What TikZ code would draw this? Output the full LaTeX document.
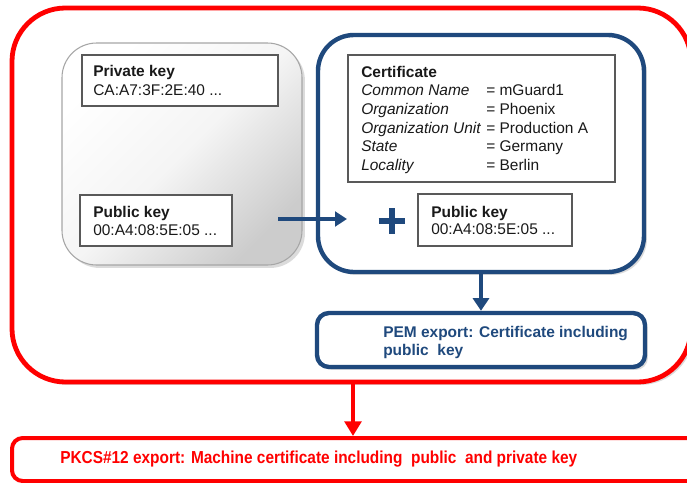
\documentclass[tikz,border=0pt]{standalone}
\usepackage{graphicx}
\usepackage{fontspec}
\setmainfont{Liberation Sans}
\usetikzlibrary{arrows.meta,shadows,fit}
\definecolor{dblue}{RGB}{31,73,125}
\definecolor{pred}{RGB}{255,0,0}
\definecolor{txt}{RGB}{25,25,25}
\begin{document}
\begin{tikzpicture}[x=0.75pt,y=-0.75pt,
  every node/.style={font=\fontsize{11.6}{13.5}\selectfont, inner sep=0, text=txt},
  thinbox/.style={draw=black!65, line width=0.8pt, fill=white, inner sep=0},
  lbl/.style={anchor=base west, inner sep=0},
  sh/.style={drop shadow={opacity=0.28, shadow xshift=2.2pt, shadow yshift=-2.2pt}},
  redbox/.style={draw=pred, line width=3.6pt, fill=white, inner sep=0, sh},
  bluebox/.style={draw=dblue, line width=3.3pt, fill=white, inner sep=0, sh},
  bluearrow/.style={draw=dblue, line width=3pt, -{Triangle[width=11pt,length=9pt]}},
  redarrow/.style={draw=pred, line width=3pt, -{Triangle[width=12.5pt,length=11pt]}},
  ]
\clip (0,0) rectangle (687,483);
\fill[white] (0,0) rectangle (687,483);

% outer red box
\node[redbox, rounded corners=40pt, fit={(12,8) (691,382)}] (outer) {};

% gray key box
\node[draw=black!35, line width=0.8pt, inner sep=0, rounded corners=26pt,
      top color=white, bottom color=black!20, middle color=black!4, shading angle=45, sh,
      fit={(62,43) (302,265)}] (keys) {};
\node[thinbox, fit={(82,55) (278,106)}] (priv) {};
\node[lbl, font=\fontsize{11.6}{13.5}\selectfont\bfseries] (privt) at (93,76.5) {Private key};
\node[lbl] (privv) at (93,95) {CA:A7:3F:2E:40 ...};
\node[thinbox, fit={(80,195) (232,246)}] (publ) {};
\node[lbl, font=\fontsize{11.6}{13.5}\selectfont\bfseries] (publt) at (93,217) {Public key};
\node[lbl] (publv) at (93,235) {00:A4:08:5E:05 ...};

% blue certificate box
\node[bluebox, rounded corners=27pt, fit={(318,35) (644,272)}] (certbox) {};
\node[thinbox, fit={(348,55) (615,182)}] (cert) {};
\node[lbl, font=\fontsize{11.6}{13.5}\selectfont\bfseries] (certt) at (361,77) {Certificate};
\node[lbl, font=\fontsize{11.6}{13.5}\selectfont\itshape] (l1) at (361,95) {Common Name};
\node[lbl, font=\fontsize{11.6}{13.5}\selectfont\itshape] (l2) at (361,114) {Organization};
\node[lbl, font=\fontsize{11.6}{13.5}\selectfont\itshape] (l3) at (361,133) {Organization Unit};
\node[lbl, font=\fontsize{11.6}{13.5}\selectfont\itshape] (l4) at (361,151) {State};
\node[lbl, font=\fontsize{11.6}{13.5}\selectfont\itshape] (l5) at (361,170) {Locality};
\node[lbl] (v1) at (486,95) {= mGuard1};
\node[lbl] (v2) at (486,114) {= Phoenix};
\node[lbl] (v3) at (486,133) {= Production A};
\node[lbl] (v4) at (486,151) {= Germany};
\node[lbl] (v5) at (486,170) {= Berlin};

\node[thinbox, fit={(418,194) (572,246)}] (pubr) {};
\node[lbl, font=\fontsize{11.6}{13.5}\selectfont\bfseries] (pubrt) at (431,217) {Public key};
\node[lbl] (pubrv) at (431,234) {00:A4:08:5E:05 ...};

% plus sign
\coordinate (plus) at (392,221);
\draw[dblue, line width=4pt] ([xshift=-10pt]plus) -- ([xshift=10pt]plus);
\draw[dblue, line width=4pt] ([yshift=-9.5pt]plus) -- ([yshift=9.5pt]plus);

% arrow from gray box to certificate box
\coordinate (as) at (278,219);
\coordinate (ae) at (347,219);
\draw[bluearrow] (as) -- (ae);

% PEM box
\node[bluebox, rounded corners=9pt, fit={(317,313) (645,367)}] (pem) {};
\node[lbl, text=dblue, font=\fontsize{11.6}{13.5}\selectfont\bfseries] (pem1) at (383,337) {PEM export: Certificate including};
\node[lbl, text=dblue, font=\fontsize{11.6}{13.5}\selectfont\bfseries] (pem2) at (383,355) {public~ key};
\coordinate (da) at (481,0);
\draw[bluearrow, line width=3.2pt, -{Triangle[width=12pt,length=9.5pt]}] (certbox.south -| da) -- (pem.north -| da);

% PKCS box
\node[draw=pred, line width=3pt, fill=white, inner sep=0, rounded corners=8pt, fit={(12,438) (700,481)}] (pkcs) {};
\node[lbl, text=pred, font=\fontsize{13}{15}\selectfont\bfseries] (pkcst) at (60,463)
  {\resizebox{387.75pt}{\height}{PKCS\#12 export: Machine certificate including~ public~ and private key}};
\coordinate (ra) at (353,0);
\draw[redarrow] (outer.south -| ra) -- (pkcs.north -| ra);
\end{tikzpicture}
\end{document}
